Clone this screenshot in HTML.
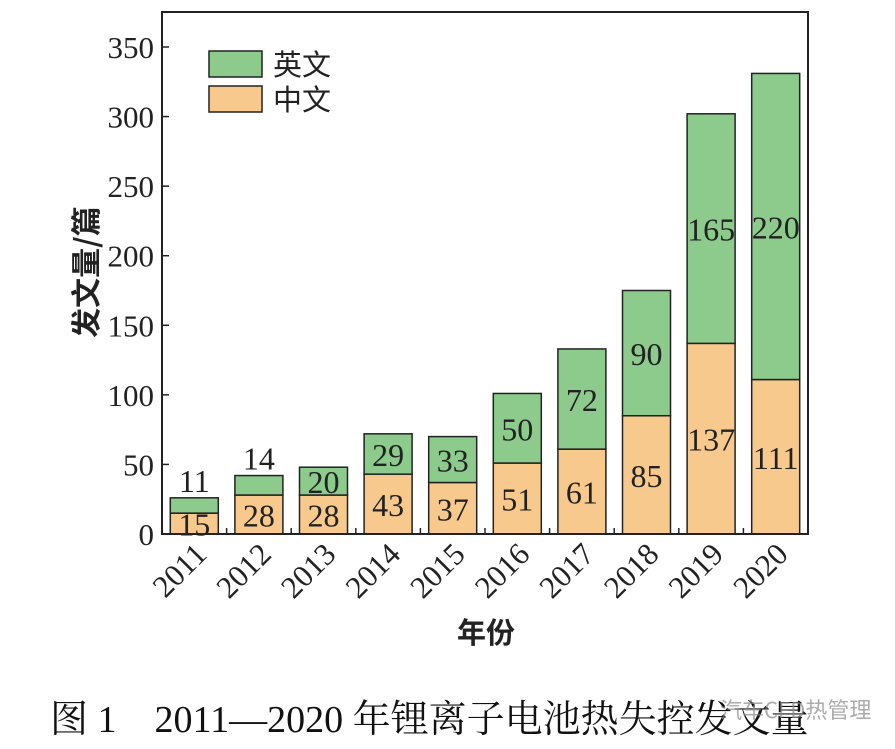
<!DOCTYPE html>
<html><head><meta charset="utf-8"><style>
body{margin:0;background:#fff;width:895px;height:749px;overflow:hidden}
svg{display:block}
</style></head><body>
<svg id="chart" width="895" height="749" font-family="'Liberation Serif','Noto Serif CJK SC',serif">
<g id="bars"></g>
<g id="axes"></g>
<g>
<rect x="209" y="51" width="53" height="26" fill="#8ccb8c" stroke="#222" stroke-width="1.5"/>
<text x="273" y="75" font-size="29" font-family="'Noto Sans CJK SC',sans-serif" fill="#222">英文</text>
<rect x="209" y="86" width="53" height="26" fill="#f8c98c" stroke="#222" stroke-width="1.5"/>
<text x="273" y="110" font-size="29" font-family="'Noto Sans CJK SC',sans-serif" fill="#222">中文</text>
</g>
<text transform="translate(97,272) rotate(-90)" text-anchor="middle" font-size="30" font-weight="bold" font-family="'Noto Sans CJK SC',sans-serif" fill="#222">发文量/篇</text>
<text x="486" y="643" text-anchor="middle" font-size="29" font-weight="bold" font-family="'Noto Sans CJK SC',sans-serif" fill="#222">年份</text>
<text x="50" y="732" font-size="38" font-family="'Liberation Serif','Noto Serif CJK SC',serif" fill="#111">图 1　2011—2020 年锂离子电池热失控发文量</text>
<text x="720" y="718" font-size="22" font-family="'Noto Sans CJK SC',sans-serif" fill="#888" opacity="0.7">汽车CFD热管理</text>
</svg>
<script>
const categories=["2011","2012","2013","2014","2015","2016","2017","2018","2019","2020"];
const chinese=[15,28,28,43,37,51,61,85,137,111];
const english=[11,14,20,29,33,50,72,90,165,220];
const yTicks=[0,50,100,150,200,250,300,350];
const NS="http://www.w3.org/2000/svg";
const L=162,R=808,T=12,B=534;
const bw=(R-L)/categories.length;
const y=v=>B-v*(487/350);
const xc=i=>L+bw*(i+0.5);
function mk(tag,attrs,parent){const e=document.createElementNS(NS,tag);for(const k in attrs)e.setAttribute(k,attrs[k]);parent.appendChild(e);return e;}
const gb=document.getElementById('bars'),ga=document.getElementById('axes');
categories.forEach((c,i)=>{
  const x=xc(i)-24,w=48;
  const r1=mk('rect',{x:x,y:y(chinese[i]),width:w,height:B-y(chinese[i]),fill:'#f8c98c',stroke:'#222','stroke-width':1.5},gb);
  
  
  const tot=chinese[i]+english[i];
  const r2=mk('rect',{x:x,y:y(tot),width:w,height:y(chinese[i])-y(tot),fill:'#8ccb8c',stroke:'#222','stroke-width':1.5},gb);
  
  
  const t1=mk('text',{x:xc(i),y:(y(chinese[i])+B)/2+12,'text-anchor':'middle','font-size':32,fill:'#222'},gb);
  t1.textContent=chinese[i];
  
  
  const gh=y(chinese[i])-y(tot);
  const ty=gh<25?y(tot)-6:(y(tot)+y(chinese[i]))/2+12;
  const t2=mk('text',{x:xc(i),y:ty,'text-anchor':'middle','font-size':32,fill:'#222'},gb);
  t2.textContent=english[i];
  
  
  const xl=mk('text',{transform:`translate(${xc(i)+14},${556}) rotate(-45)`,'text-anchor':'end','font-size':31,fill:'#222'},ga);
  xl.textContent=c;
  
  
  if(i>0){const tk=mk('line',{x1:L+bw*i,x2:L+bw*i,y1:B,y2:B-6,stroke:'#222','stroke-width':1.5},ga);
  
  }
});
const fr=mk('rect',{x:L,y:T,width:R-L,height:B-T,fill:'none',stroke:'#222','stroke-width':2},ga);


yTicks.forEach(v=>{
  const tk=mk('line',{x1:L,x2:L+7,y1:y(v),y2:y(v),stroke:'#222','stroke-width':1.5},ga);
  
  
  const t=mk('text',{x:L-8,y:y(v)+11,'text-anchor':'end','font-size':31,fill:'#222'},ga);
  t.textContent=v;
  
  
});
</script>
</body></html>
